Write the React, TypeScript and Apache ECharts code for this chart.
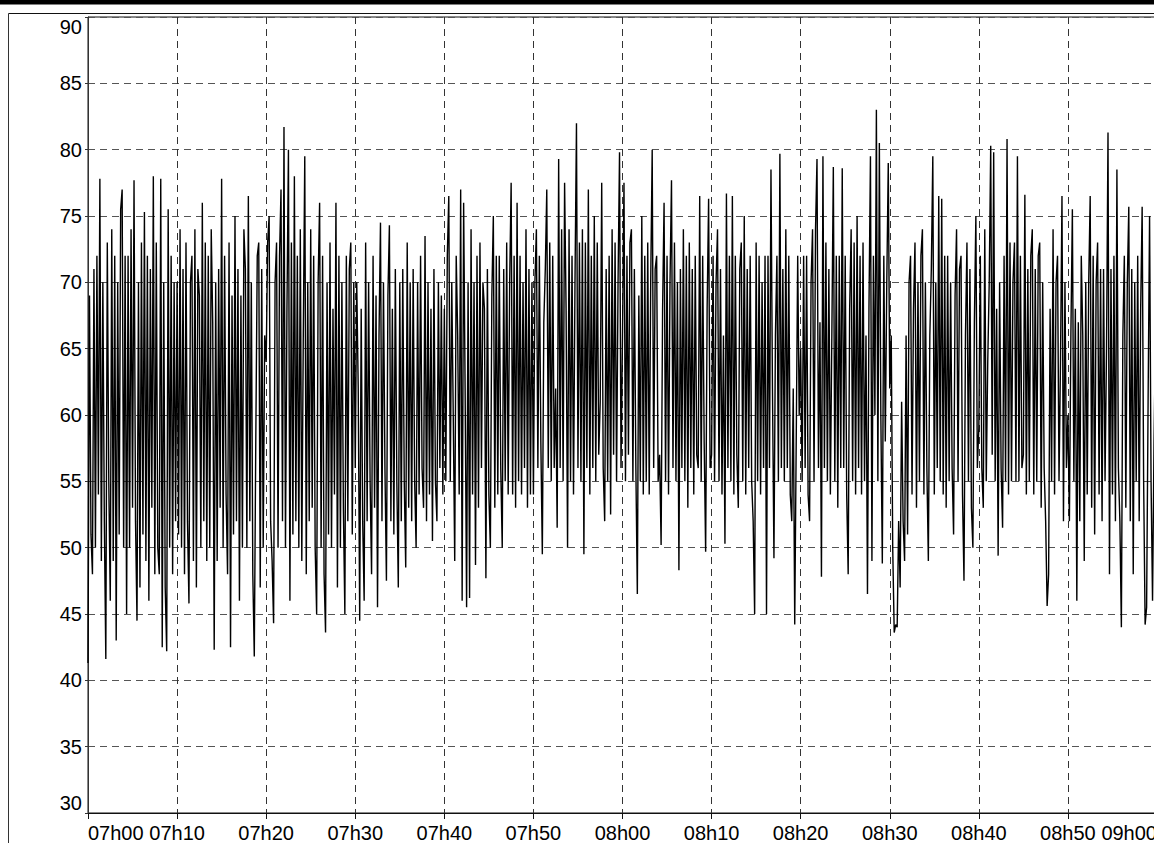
import { useEffect, useRef } from "react";
import * as echarts from "echarts";

// Readings every 10 s starting at 07h00 (minutes since midnight on the x axis)
const START_MINUTE = 420;
const READINGS_PER_MINUTE = 6;

const seg0700 = [41.3, 69, 51, 48, 71, 50, 72, 54, 77.8, 49, 70, 52, 41.6, 73, 55, 46, 74, 49, 72, 43, 70, 51, 75.5, 77, 50, 72, 45, 72, 50, 74, 53, 77.7, 52, 44.5, 70, 47, 73, 51, 75.3, 49, 72, 46, 71, 53, 78, 48, 73, 50, 48, 77.8, 42.5, 70, 47, 42.2, 75.5, 50, 72, 48, 70, 52];
const seg0710 = [70, 51, 74, 50, 71, 48, 73, 52, 45.8, 70, 72, 49, 74, 47, 71, 69, 50, 76, 52, 73, 49, 72, 50, 74, 67, 42.3, 70, 49, 71, 53, 77.8, 50, 72, 54, 48, 73, 42.5, 69, 51, 75, 52, 71, 46, 69, 50, 74, 71, 50, 76.5, 52, 70, 48, 41.8, 58, 72, 73, 47, 71, 50, 66];
const seg0720 = [64, 73, 75, 52, 49, 44.3, 70, 73, 50, 72, 77, 52, 81.7, 50, 68, 80, 46, 73, 51, 78, 52, 72, 50, 74, 49, 66, 79.5, 48, 70, 52, 74, 53, 72, 50, 45, 70, 76, 50, 72, 48, 43.6, 70, 51, 73, 50, 68, 54, 76, 47, 72, 50, 70, 53, 45, 72, 52, 71, 73, 51, 70];
const seg0730 = [56, 70, 62, 44.5, 68, 52, 46, 73, 52, 70, 55, 48, 72, 53, 69, 45.5, 66, 74.5, 52, 70, 56, 47.5, 69, 74.3, 52, 68, 51, 71, 55, 47, 70, 52, 71, 55, 48.5, 73, 53, 70, 52, 71, 55, 50, 70, 54, 72, 56, 53, 73.5, 52, 70, 54, 68, 50.5, 71, 55, 52, 70, 56, 69, 54];
const seg0740 = [68, 55, 72, 76.5, 55, 70, 60, 49, 72, 66, 54, 77, 46, 76, 62, 45.5, 70, 46.2, 74, 54, 70, 48.7, 72, 53, 73, 56, 70, 68, 47.7, 71, 54, 50, 69, 75, 53, 72, 54, 72, 56, 50, 71, 55, 73, 54, 70, 77.5, 54, 72, 53, 76, 55, 72, 54, 70, 56, 74, 53, 71, 54, 70];
const seg0750 = [54, 70, 74, 56, 72, 58, 49.5, 67, 71, 77, 56, 73, 55, 72, 56, 62, 51.5, 79.3, 56, 74, 55, 77.5, 68, 50, 74, 55, 72, 54, 70, 82, 56, 73, 55, 74, 49.5, 73, 56, 77, 54, 72, 56, 75, 55, 73, 57, 61, 77.5, 56, 52, 71, 55, 72, 52.5, 74, 57, 73, 55, 70, 79.8, 56];
const seg0800 = [66, 77.5, 55, 72, 57, 73, 74, 55, 71, 56, 46.5, 69, 55, 75, 54, 72, 55, 73, 54, 70, 80, 56, 71, 72, 55, 57, 50.2, 68, 76, 55, 72, 54, 70, 77.7, 56, 73, 55, 70, 48.3, 71, 56, 74, 55, 72, 53, 73, 56, 71, 54, 72, 57, 56, 76.5, 55, 72, 58, 49.7, 68, 76.3, 56];
const seg0810 = [57, 72, 55, 70, 74, 55, 71, 54, 66, 50.3, 76.7, 56, 72, 55, 76.5, 54, 72, 57, 53, 71, 73, 55, 75, 54, 71, 56, 72, 55, 52, 45, 73, 55, 72, 54, 70, 56, 72, 45, 72, 56, 78.5, 62, 49.2, 66, 72, 55, 79.7, 56, 71, 55, 74, 56, 72, 54, 52, 62, 44.2, 58, 72, 60];
const seg0820 = [65, 55, 72, 56, 72, 54, 52, 70, 74, 55, 74, 79.3, 56, 67, 47.8, 79.5, 56, 73, 55, 71, 54, 66, 78.7, 55, 72, 53, 72, 56, 78.6, 56, 72, 54, 48, 68, 74, 55, 73, 54, 75, 56, 72, 54, 73, 55, 66, 46.5, 68, 79.5, 49, 72, 60, 83, 55, 80.5, 60, 48.8, 72, 58, 70, 79];
const seg0830 = [62, 66, 50, 43.6, 44.2, 44, 52, 47, 61, 52, 49, 66, 51, 70, 72, 54, 68, 73, 53, 70, 55, 72, 74, 54, 70, 56, 49, 66, 71, 79.5, 54, 70, 56, 76.5, 55, 76.3, 54, 72, 53, 72, 55, 70, 56, 51, 69, 74, 55, 71, 72, 54, 47.5, 66, 73, 55, 71, 53, 50, 67, 75, 56];
const seg0840 = [59, 72, 56, 53, 74, 55, 64, 70, 80.3, 57, 79.8, 55, 68, 49.4, 70, 56, 51.5, 72, 55, 80.8, 54, 73, 55, 70, 73, 55, 79.5, 55, 72, 56, 57, 76.6, 54, 71, 55, 72, 74, 54, 71, 55, 72, 73, 53, 70, 56, 52, 45.6, 48, 68, 55, 74, 54, 70, 72, 55, 64, 76.5, 52, 70, 56];
const seg0850 = [60, 52, 66, 75.5, 55, 68, 46, 67, 52, 72, 66, 49, 70, 54, 70, 76.5, 53, 72, 51, 70, 73, 54, 71, 52, 71, 55, 65, 81.3, 48, 71, 54, 72, 52, 78.5, 56, 52, 44, 66, 72, 53, 70, 75.7, 52, 71, 48, 70, 55, 72, 52, 68, 75.7, 55, 44.2, 45.5, 61, 75, 55, 46, 58, 66, 60];

const segments = [seg0700, seg0710, seg0720, seg0730, seg0740, seg0750, seg0800, seg0810, seg0820, seg0830, seg0840, seg0850];
const readings = segments.flat();

const timeTickLabels = ["07h00", "07h10", "07h20", "07h30", "07h40", "07h50", "08h00", "08h10", "08h20", "08h30", "08h40", "08h50", "09h00"];
const Y_MIN = 30;
const Y_MAX = 90;
const Y_STEP = 5;
const X_STEP = 10;

const FONT = "'Liberation Sans', Arial, sans-serif";

export default function App() {
  const ref = useRef<HTMLDivElement>(null);

  useEffect(() => {
    if (!ref.current) return;
    const chart = echarts.init(ref.current, undefined, { renderer: "svg" });
    const xMin = START_MINUTE;
    const xMax = START_MINUTE + X_STEP * (timeTickLabels.length - 1);

    chart.setOption({
      animation: false,
      backgroundColor: "#fff",
      grid: {
        left: 88,
        right: -3,
        top: 17,
        bottom: 30,
        outerBoundsMode: "none",
        containLabel: false,
        show: true,
        borderColor: "#111",
        borderWidth: 1,
      },
      xAxis: {
        type: "value",
        min: xMin,
        max: xMax,
        interval: X_STEP,
        axisLine: { show: true, lineStyle: { color: "#111", width: 1 } },
        axisTick: { show: true, length: 6, lineStyle: { color: "#111" } },
        splitLine: {
          show: true,
          lineStyle: { color: "#333", type: [7, 5], width: 1 },
        },
        axisLabel: {
          color: "#000",
          fontFamily: FONT,
          fontSize: 20,
          margin: 10,
          showMinLabel: true,
          showMaxLabel: true,
          alignMinLabel: "left",
          alignMaxLabel: "right",
          formatter: (v: number) => timeTickLabels[Math.round((v - xMin) / X_STEP)] ?? "",
        },
      },
      yAxis: {
        type: "value",
        min: Y_MIN,
        max: Y_MAX,
        interval: Y_STEP,
        axisLine: { show: true, lineStyle: { color: "#333", width: 1 } },
        axisTick: { show: true, length: 3, lineStyle: { color: "#333" } },
        splitLine: {
          show: true,
          lineStyle: { color: "#555", type: [7, 5], width: 1 },
        },
        axisLabel: {
          color: "#000",
          fontFamily: FONT,
          fontSize: 20,
          margin: 6,
          showMinLabel: true,
          showMaxLabel: true,
          verticalAlignMinLabel: "bottom",
          verticalAlignMaxLabel: "top",
        },
      },
      series: [
        {
          type: "line",
          data: readings.map((v, i) => [START_MINUTE + i / READINGS_PER_MINUTE, v]),
          showSymbol: false,
          lineStyle: { color: "#000", width: 1.4 },
          clip: true,
        },
      ],
      graphic: [
        {
          type: "rect",
          silent: true,
          shape: { x: 0, y: 0, width: 1154, height: 4.5 },
          style: { fill: "#000" },
        },
        {
          type: "line",
          silent: true,
          shape: { x1: 8.5, y1: 13.5, x2: 1154, y2: 13.5 },
          style: { stroke: "#111", lineWidth: 1 },
        },
        {
          type: "line",
          silent: true,
          shape: { x1: 8.5, y1: 13.5, x2: 8.5, y2: 843 },
          style: { stroke: "#333", lineWidth: 1 },
        },
      ],
    });

    return () => chart.dispose();
  }, []);

  return (
    <div
      ref={ref}
      style={{ position: "fixed", left: 0, top: 0, width: 1154, height: 843, background: "#fff" }}
    />
  );
}
